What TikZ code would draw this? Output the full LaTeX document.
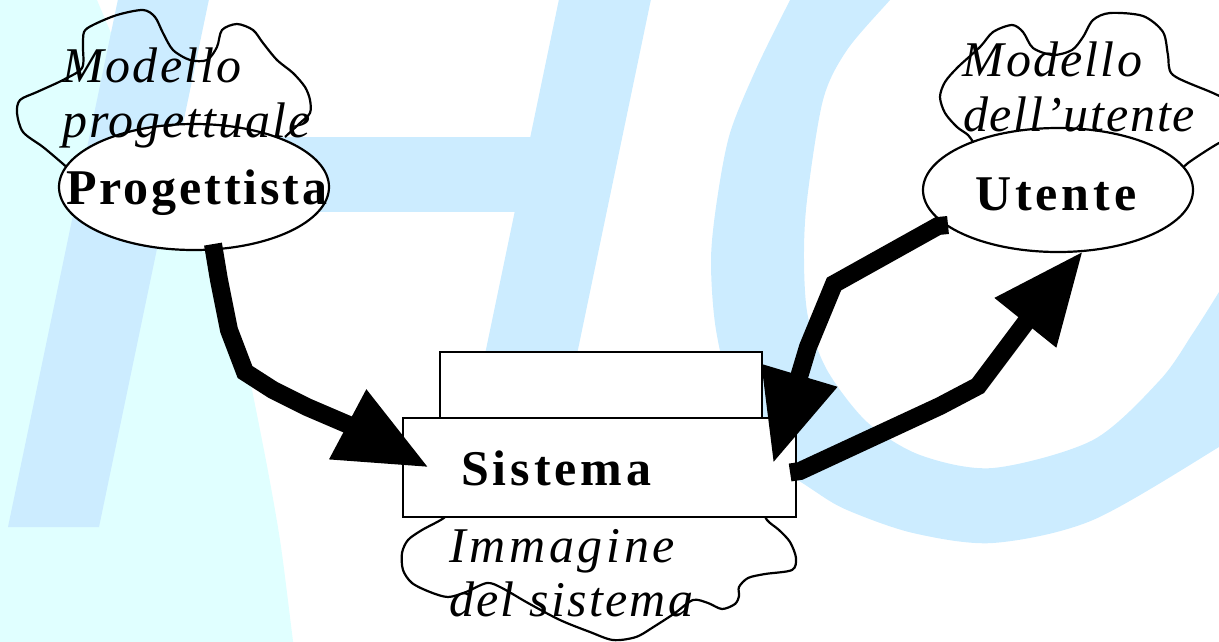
\documentclass[tikz,border=0pt]{standalone}
\usepackage{fontspec}
\setmainfont{Liberation Serif}
\usetikzlibrary{arrows.meta,shapes.geometric}
\definecolor{pale}{RGB}{224,255,255}
\definecolor{hcblue}{RGB}{204,236,255}

\begin{document}
\begin{tikzpicture}[x=1pt,y=-1pt,
  outline/.style={draw=black,line width=2.2pt},
  bubble/.style={outline,line join=round},
  oval/.style={shape=ellipse,outline,fill=white,inner sep=0pt},
  panel/.style={shape=rectangle,outline,fill=white,inner sep=0pt},
  itlabel/.style={anchor=base west,inner sep=0pt,
    font=\fontsize{50}{55}\selectfont\itshape\addfontfeatures{LetterSpace=#1}},
  bflabel/.style={anchor=base west,inner sep=0pt,
    font=\fontsize{50}{55}\selectfont\bfseries\addfontfeatures{LetterSpace=#1}},
  flow/.style={line width=18pt,-{Triangle[length=92pt 0 0,width=74pt 0 0]}}]

\useasboundingbox (0,0) rectangle (1219,641);
\clip (0,0) rectangle (1219,641);

% pale wash on the left
\fill[pale] (0,-5) -- (95,-5) -- plot[smooth] coordinates
  {(97,0) (140,100) (200,230) (240,340) (262,440) (280,540) (293,641) (295,650)}
  -- (0,650) -- cycle;

% large slanted "H"
\fill[hcblue] (122,-20) -- (213,-20) -- (99,527) -- (8,527) -- cycle;
\fill[hcblue] (563,-20) -- (655,-20) -- (541,527) -- (449,527) -- cycle;
\fill[hcblue] (150,137) rectangle (540,212);

% large "C"
\fill[hcblue] plot[smooth] coordinates
  {(800,-20) (790,0) (757,67) (730,133) (717,200) (711,260) (716,330)
   (735,405) (770,458) (813,490) (847,510) (913,533) (993,543) (1093,520)
   (1219,447) (1250,425)}
  -- plot[smooth] coordinates
  {(1232,270) (1219,292) (1193,333) (1160,380) (1093,440) (993,468)
   (920,455) (867,422) (827,370) (808,317) (804,260) (807,200) (823,100)
   (847,50) (890,0) (908,-20)} -- cycle;

% thought clouds
\draw[bubble] plot[smooth] coordinates
  {(72,172) (62,163) (43,147) (23,132) (17,113) (20,100) (37,92) (63,80)
   (82,68) (83,47) (84,32) (93,25) (117,15) (143,10) (155,17) (163,33)
   (173,50) (190,60) (207,60) (217,47) (222,30) (237,24) (253,30) (263,43)
   (277,60) (293,73) (305,87) (310,100) (310,113) (300,123) (285,137)};
\draw[bubble] plot[smooth] coordinates
  {(975,145) (968,135) (957,127) (945,113) (940,97) (945,82) (958,67)
   (980,47) (993,32) (1012,25) (1023,32) (1033,48) (1053,55) (1072,50)
   (1083,37) (1093,20) (1110,13) (1143,16) (1163,32) (1168,55) (1173,75)
   (1213,93) (1245,108)};
\draw[bubble] plot[smooth] coordinates
  {(1245,132) (1219,143) (1188,163) (1180,172)};
\filldraw[bubble,fill=white] plot[smooth] coordinates
  {(448,505) (445,517) (422,530) (408,540) (402,553) (403,570) (412,583)
   (430,592) (448,597) (466,592) (487,583) (502,588) (528,603) (560,620)
   (590,632) (613,640) (636,637) (655,626) (675,613) (693,600) (708,603)
   (722,609) (735,604) (739,596) (739,587) (748,578) (765,574) (792,570)
   (796,558) (790,542) (779,530) (767,520) (760,505)} -- cycle;

% actors and system
\node[oval,minimum width=270pt,minimum height=126pt] (prog) at (194,187) {};
\node[oval,minimum width=270pt,minimum height=124pt] (ute) at (1058,190) {};
\node[panel,minimum width=322pt,minimum height=90pt] (back) at (601,397) {};
\node[panel,minimum width=393pt,minimum height=99pt] (sys) at (599.5,467.5) {};

% labels
\node[itlabel=4.2] (lm1) at (62,82) {Modello};
\node[itlabel=3.9] (lm2) at (62,137) {progettuale};
\node[bflabel=5.8] (lp) at (66,204) {Progettista};
\node[itlabel=4.4] (rm1) at (962,76) {Modello};
\node[itlabel=3.6] (rm2) at (963,131) {dell’utente};
\node[bflabel=7.8] (ru) at (975,210) {Utente};
\node[bflabel=7.8] (st) at (461,485) {Sistema};
\node[itlabel=7.4] (bm1) at (449,562) {Immagine};
\node[itlabel=4.5] (bm2) at (449,616) {del sistema};

% flows between designer, system and user
\draw[flow] ([shift={(19,-7)}]prog.south) -- (219,280) -- (229,330)
  -- (245,372) -- (273,390) -- (307,407) -- (349,425)
  -- ([shift={(27,0)}]sys.west);
\draw[flow] ([shift={(-110,35)}]ute.center) -- (938,226) -- (834,284)
  -- (808,347) -- ([shift={(-24,-4)}]sys.east);
\draw[flow] ([shift={(-7,5)}]sys.east) -- (800,471) -- (940,406)
  -- (978,386) -- (1026,322) -- ([shift={(25,-2)}]ute.south);
\end{tikzpicture}
\end{document}
